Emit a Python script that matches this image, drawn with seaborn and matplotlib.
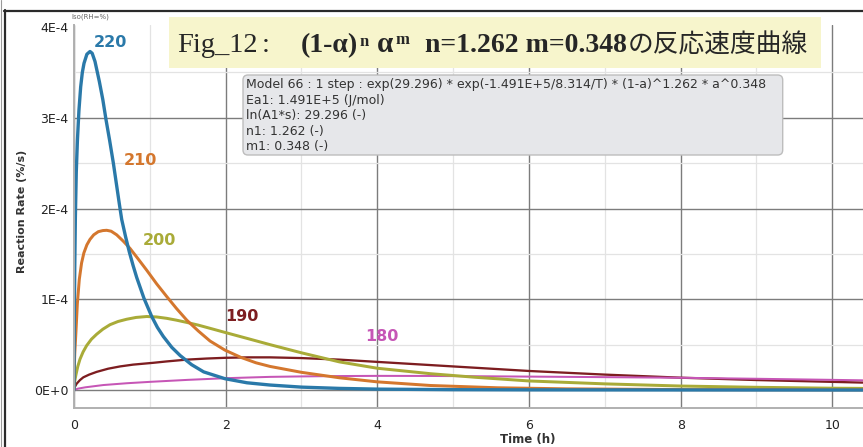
import numpy as np
import pandas as pd
import matplotlib
matplotlib.use("Agg")
import matplotlib.pyplot as plt
import seaborn as sns
from matplotlib.patches import Rectangle, FancyBboxPatch
from matplotlib.lines import Line2D
from matplotlib.transforms import IdentityTransform
from matplotlib.ticker import MultipleLocator, FixedLocator, FuncFormatter

# ---- data: reaction rate (1E-4 %/s) vs time (h) for each isothermal run (deg C)
temps = ["220", "210", "200", "190", "180"]

t_220 = [0, 0.0015, 0.004, 0.01, 0.018, 0.03, 0.045, 0.065, 0.088, 0.11, 0.132, 0.17,
         0.211, 0.24, 0.277, 0.334, 0.38, 0.422, 0.47, 0.519, 0.598, 0.629, 0.68, 0.73,
         0.78, 0.827, 0.923, 1.025, 1.1, 1.178, 1.29, 1.40, 1.55, 1.71, 1.99, 2.28,
         2.585, 3.0, 3.5, 4.0, 5.0, 6.0, 8.0, 10.4]
r_220 = [0, 0.45, 0.8, 1.35, 1.9, 2.4, 2.75, 3.08, 3.34, 3.5, 3.6, 3.70,
         3.73, 3.71, 3.62, 3.40, 3.2, 2.98, 2.75, 2.50, 2.05, 1.88, 1.69, 1.52,
         1.37, 1.24, 1.01, 0.81, 0.69, 0.59, 0.47, 0.38, 0.28, 0.20, 0.125, 0.08,
         0.055, 0.032, 0.018, 0.01, 0.004, 0.002, 0.001, 0.0]

t_210 = [0, 0.003, 0.01, 0.026, 0.044, 0.07, 0.1, 0.13, 0.17, 0.211, 0.26, 0.321,
         0.38, 0.431, 0.49, 0.563, 0.65, 0.739, 0.85, 0.959, 1.09, 1.223, 1.35, 1.487,
         1.64, 1.794, 1.99, 2.2, 2.4, 2.585, 3.0, 3.5, 4.0, 4.7, 5.58, 6.5, 8.0, 10.4]
r_210 = [0, 0.22, 0.40, 0.65, 0.95, 1.22, 1.40, 1.51, 1.60, 1.66, 1.71, 1.745,
         1.757, 1.76, 1.75, 1.71, 1.64, 1.56, 1.44, 1.32, 1.17, 1.03, 0.90, 0.77,
         0.65, 0.54, 0.44, 0.36, 0.30, 0.26, 0.195, 0.135, 0.09, 0.05, 0.025, 0.013,
         0.005, 0.002]

t_200 = [0, 0.004, 0.012, 0.026, 0.05, 0.079, 0.12, 0.167, 0.23, 0.299, 0.38, 0.475,
         0.58, 0.695, 0.82, 0.959, 1.09, 1.223, 1.35, 1.487, 1.64, 1.794, 1.99, 2.278,
         2.585, 3.0, 3.5, 4.0, 4.7, 5.3, 6.0, 7.0, 8.0, 9.0, 10.0, 10.4]
r_200 = [0, 0.06, 0.11, 0.17, 0.26, 0.34, 0.42, 0.49, 0.56, 0.615, 0.67, 0.72,
         0.755, 0.78, 0.80, 0.81, 0.805, 0.79, 0.77, 0.745, 0.715, 0.68, 0.635, 0.57,
         0.50, 0.41, 0.31, 0.24, 0.18, 0.14, 0.10, 0.068, 0.044, 0.03, 0.02, 0.018]

t_190 = [0, 0.005, 0.035, 0.079, 0.123, 0.2, 0.299, 0.45, 0.607, 0.78, 1.046, 1.22,
         1.487, 1.75, 1.99, 2.3, 2.585, 3.0, 3.5, 4.0, 4.7, 5.3, 6.0, 7.0, 8.0, 9.0,
         10.0, 10.4]
r_190 = [0, 0.025, 0.07, 0.11, 0.14, 0.17, 0.20, 0.235, 0.26, 0.28, 0.30, 0.315,
         0.335, 0.347, 0.355, 0.36, 0.36, 0.352, 0.335, 0.31, 0.275, 0.245, 0.21, 0.17,
         0.136, 0.11, 0.09, 0.082]

t_180 = [0, 0.05, 0.15, 0.387, 0.7, 1.0, 1.5, 1.99, 2.585, 3.0, 3.5, 4.0, 4.7, 5.3,
         6.0, 7.0, 8.0, 9.0, 10.0, 10.4]
r_180 = [0, 0.015, 0.03, 0.055, 0.075, 0.09, 0.112, 0.13, 0.145, 0.15, 0.154, 0.156,
         0.155, 0.152, 0.148, 0.142, 0.135, 0.124, 0.112, 0.107]

# curve label anchor (time, rate in 1E-4) -- placed next to each curve
label_t = [0.475, 0.877, 1.125, 2.22, 4.063]
label_r = [3.782, 2.479, 1.598, 0.766, 0.540]

x_ticks = [0, 2, 4, 6, 8, 10]
y_ticks = [0, 1, 2, 3, 4]

info_lines = [
    "Model 66 : 1 step : exp(29.296) * exp(-1.491E+5/8.314/T) * (1-a)^1.262 * a^0.348",
    "Ea1: 1.491E+5 (J/mol)",
    "ln(A1*s): 29.296 (-)",
    "n1: 1.262 (-)",
    "m1: 0.348 (-)",
]

series = {"220": (t_220, r_220), "210": (t_210, r_210), "200": (t_200, r_200),
          "190": (t_190, r_190), "180": (t_180, r_180)}

frames = []
for k in temps:
    t, r = series[k]
    frames.append(pd.DataFrame({"Time (h)": t,
                                "rate": np.asarray(r) * 1e-4,
                                "T": k}))
df = pd.concat(frames, ignore_index=True)

colors = {"220": "#2a79a9", "210": "#d4772e", "200": "#a9ab38",
          "190": "#7d1d20", "180": "#c656b6"}
widths = {"220": 2.4, "210": 2.15, "200": 2.15, "190": 1.65, "180": 1.45}
draw_order = ["190", "180", "200", "210", "220"]

# ---- figure
sns.set_style("white")
plt.rcParams["font.family"] = ["DejaVu Sans"]

W, H = 863, 447
fig = plt.figure(figsize=(W / 100, H / 100), dpi=100)
ident = IdentityTransform()

ax_left, ax_right, ax_top, ax_bottom = 74, 863, 25, 408
ax = fig.add_axes([ax_left / W, (H - ax_bottom) / H,
                   (ax_right - ax_left) / W, (ax_bottom - ax_top) / H])

for k in draw_order:
    sub = df[df["T"] == k]
    sns.lineplot(data=sub, x="Time (h)", y="rate", color=colors[k],
                 linewidth=widths[k], ax=ax, legend=False, sort=False)

ax.set_xlim(0, 10.405)
ax.set_ylim(-0.198e-4, 4.022e-4)

ax.xaxis.set_major_locator(FixedLocator(x_ticks))
ax.xaxis.set_minor_locator(MultipleLocator(1))
ax.yaxis.set_major_locator(FixedLocator([v * 1e-4 for v in y_ticks]))
ax.yaxis.set_minor_locator(MultipleLocator(0.5e-4))


def fmt_rate(v, pos):
    n = int(round(v / 1e-4))
    return "0E+0" if n == 0 else f"{n}E-4"


ax.yaxis.set_major_formatter(FuncFormatter(fmt_rate))
ax.xaxis.set_major_formatter(FuncFormatter(lambda v, p: f"{int(round(v))}"))

ax.grid(which="major", color="#7c7c7c", linewidth=1.0)
ax.grid(which="minor", color="#e3e3e3", linewidth=0.9)
ax.set_axisbelow(True)
fig.canvas.draw()
ax.yaxis.get_major_ticks()[-1].gridline.set_visible(False)

ax.tick_params(axis="both", which="major", labelsize=9, labelcolor="#222222",
               color="#9a9a9a", length=3, width=1)
ax.tick_params(axis="y", which="major", pad=1)
ax.tick_params(axis="x", which="major", pad=5)
ax.tick_params(which="minor", length=0)

for s in ("top", "right"):
    ax.spines[s].set_visible(False)
for s in ("left", "bottom"):
    ax.spines[s].set_color("#b0b0b0")
    ax.spines[s].set_linewidth(1.4)

ax.set_xlabel("Time (h)", fontsize=8.5, fontweight="bold", color="#333333")
ax.xaxis.set_label_coords((528 - ax_left) / (ax_right - ax_left),
                          -(433 - ax_bottom) / (ax_bottom - ax_top))
ax.set_ylabel("Reaction Rate (%/s)", fontsize=8, fontweight="bold", color="#333333")
ax.yaxis.label.set_va("center")
ax.yaxis.set_label_coords((21.7 - ax_left) / (ax_right - ax_left),
                          (ax_bottom - 211) / (ax_bottom - ax_top))

for k, lt, lr in zip(temps, label_t, label_r):
    ax.text(lt, lr * 1e-4, k, color=colors[k], fontsize=11.5, fontweight="bold",
            ha="center", va="baseline")

# ---- frame lines around the plot window
fig.add_artist(Line2D([0.5, 0.5], [0, H], color="#9a9a9a", lw=0.8, transform=ident))
fig.add_artist(Line2D([5, 5], [0, H - 10], color="#2a2a2a", lw=1.6, transform=ident))
fig.add_artist(Line2D([4, W], [H - 11, H - 11], color="#2a2a2a", lw=1.6, transform=ident))

fig.text(71, H - 19, "Iso(RH=%)", fontsize=5, color="#666666", transform=ident,
         va="baseline")

# ---- title band
fig.add_artist(Rectangle((169, H - 68.3), 821 - 169, 51, facecolor="#f7f5cc",
                         edgecolor="none", transform=ident))
base = H - 52.5
serif = "Liberation Serif"
fig.text(177, base, "Fig_12", fontsize=20.5, family=serif, transform=ident, va="baseline")
fig.text(262, base, ":", fontsize=20.5, family=serif, transform=ident, va="baseline")
fig.text(301, base, "(1-α)", fontsize=20, family=serif, fontweight="bold",
         transform=ident, va="baseline")
fig.text(360, H - 45.7, "n", fontsize=12, family=serif, fontweight="bold",
         transform=ident, va="baseline")
fig.text(377, base, "α", fontsize=21, family=serif, fontweight="bold",
         transform=ident, va="baseline")
fig.text(395, H - 44, "m", fontsize=12, family=serif, fontweight="bold",
         transform=ident, va="baseline")
t_nm = fig.text(425, base, "n=1.262 m=0.348", fontsize=20, family=serif,
                fontweight="bold", transform=ident, va="baseline")
renderer = fig.canvas.get_renderer()
x_end = t_nm.get_window_extent(renderer).x1
fig.text(x_end + 0.5, base, "の反応速度曲線", fontsize=18.5,
         family=["Noto Sans CJK JP", "DejaVu Sans"], transform=ident, va="baseline")

# ---- model parameter box
fig.add_artist(FancyBboxPatch((243, H - 155), 782.7 - 243, 80,
                              boxstyle="round,pad=0,rounding_size=5",
                              facecolor="#e6e7ea", edgecolor="#bdbdbd", lw=1,
                              transform=ident))
for i, line in enumerate(info_lines):
    fig.text(246.5, H - (88.3 + 15.4 * i), line, fontsize=9, color="#333333",
             transform=ident, va="baseline")

fig.savefig("out.png", dpi=100)
